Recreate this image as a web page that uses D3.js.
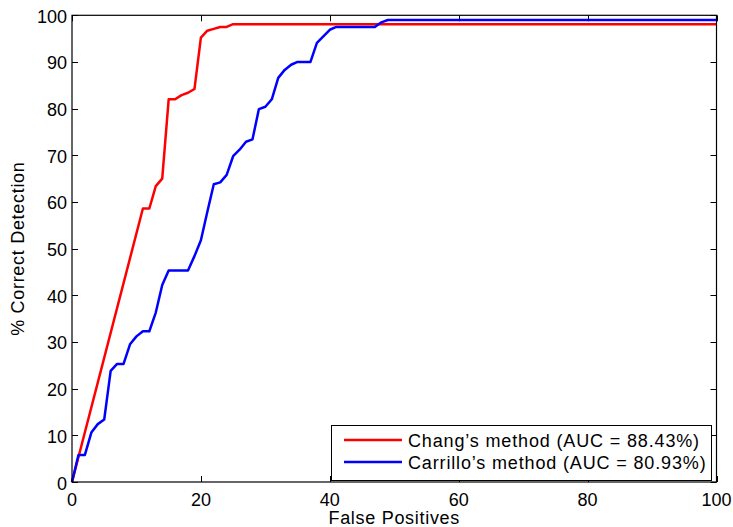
<!DOCTYPE html>
<html>
<head>
<meta charset="utf-8">
<script src="https://cdn.jsdelivr.net/npm/d3@7"></script>
<style>
  html, body { margin: 0; padding: 0; background: #fff; }
  svg { display: block; font-family: "Liberation Sans", Arial, Helvetica, sans-serif; }
</style>
</head>
<body>
<svg id="chart" width="733" height="527"></svg>
<script>
// ---- Data ----
const changFP  = [0, 11, 12, 13, 14, 15, 16, 17, 18, 19, 20, 21, 22, 23, 24, 25, 100];
const changTP  = [0, 58.6, 58.6, 63.4, 65.0, 82.0, 82.0, 82.9, 83.4, 84.2, 95.2, 96.7, 97.1, 97.5, 97.5, 98.1, 98.1];

const carrFP = [0, 1, 2, 3, 4, 5, 6, 7, 8, 9, 10, 11, 12, 13, 14, 15, 18, 19, 20, 21, 22, 23, 24, 25, 26, 27, 28, 29, 30, 31, 32, 33, 34, 35, 37, 38, 39, 40, 41, 47, 48, 49, 100];
const carrTP = [0, 5.8, 5.8, 10.6, 12.4, 13.4, 23.8, 25.3, 25.3, 29.5, 31.2, 32.3, 32.3, 36.3, 42.2, 45.3, 45.3, 48.4, 51.8, 57.9, 63.8, 64.2, 65.8, 69.8, 71.2, 72.9, 73.4, 79.9, 80.4, 82.0, 86.6, 88.3, 89.4, 90.0, 90.0, 94.1, 95.5, 96.9, 97.5, 97.5, 98.5, 99.0, 99.0];

const seriesNames  = ["Chang\u2019s method (AUC = 88.43%)", "Carrillo\u2019s method (AUC = 80.93%)"];
const seriesColors = ["#ff0000", "#0000ff"];

const xTicks = [0, 20, 40, 60, 80, 100];
const yTicks = [0, 10, 20, 30, 40, 50, 60, 70, 80, 90, 100];
const xLabel = "False Positives";
const yLabel = "% Correct Detection";

// ---- Layout ----
const svg = d3.select("#chart");
const L = 72, R = 716.5, T = 15.3, B = 482;
const x = d3.scaleLinear().domain([0, 100]).range([L, R]);
const y = d3.scaleLinear().domain([0, 100]).range([B, T]);
const tickLen = 6;
const fs = 18;

// Ticks (inward, all four sides)
const g = svg.append("g").attr("stroke", "#000").attr("stroke-width", 1);
xTicks.forEach(t => {
  const px = Math.round(x(t)) + 0.5;
  g.append("line").attr("x1", px).attr("x2", px).attr("y1", B).attr("y2", B - tickLen);
  g.append("line").attr("x1", px).attr("x2", px).attr("y1", T).attr("y2", T + tickLen);
});
yTicks.forEach(t => {
  const py = Math.round(y(t)) + 0.5;
  g.append("line").attr("x1", L).attr("x2", L + tickLen).attr("y1", py).attr("y2", py);
  g.append("line").attr("x1", R).attr("x2", R - tickLen).attr("y1", py).attr("y2", py);
});

// Curves
const line = d3.line().x(d => x(d[0])).y(d => y(d[1]));
const series = [
  d3.zip(changFP, changTP),
  d3.zip(carrFP, carrTP)
];
svg.append("g").selectAll("path").data(series).join("path")
  .attr("d", line)
  .attr("fill", "none")
  .attr("stroke", (d, i) => seriesColors[i])
  .attr("stroke-width", 2.5)
  .attr("stroke-linejoin", "round");

// Frame
svg.append("rect")
  .attr("x", L).attr("y", T).attr("width", R - L).attr("height", B - T)
  .attr("fill", "none").attr("stroke", "#000").attr("stroke-width", 1.2);

// Tick labels
svg.append("g").selectAll("text").data(xTicks).join("text")
  .attr("x", d => x(d)).attr("y", 506)
  .attr("text-anchor", "middle").attr("font-size", fs)
  .text(d => d);
svg.append("g").selectAll("text").data(yTicks).join("text")
  .attr("x", 67).attr("y", d => y(d) + 7.5)
  .attr("text-anchor", "end").attr("font-size", fs)
  .text(d => d);

// Axis labels
svg.append("text")
  .attr("x", (L + R) / 2).attr("y", 524)
  .attr("text-anchor", "middle").attr("font-size", fs)
  .attr("letter-spacing", "0.7px")
  .text(xLabel);
svg.append("text")
  .attr("transform", `translate(24,${(T + B) / 2}) rotate(-90)`)
  .attr("text-anchor", "middle").attr("font-size", fs)
  .attr("letter-spacing", "0.7px")
  .text(yLabel);

// Legend
const lg = svg.append("g");
lg.append("rect")
  .attr("x", 331.5).attr("y", 425.5).attr("width", 380).attr("height", 55)
  .attr("fill", "#fff").attr("stroke", "#000").attr("stroke-width", 1);
seriesNames.forEach((name, i) => {
  const ly = 440 + i * 22;
  lg.append("line")
    .attr("x1", 344).attr("x2", 402).attr("y1", ly).attr("y2", ly)
    .attr("stroke", seriesColors[i]).attr("stroke-width", 2.5);
  lg.append("text")
    .attr("x", 408).attr("y", ly + 7)
    .attr("font-size", fs).attr("letter-spacing", "0.85px")
    .text(name);
});
</script>
</body>
</html>
